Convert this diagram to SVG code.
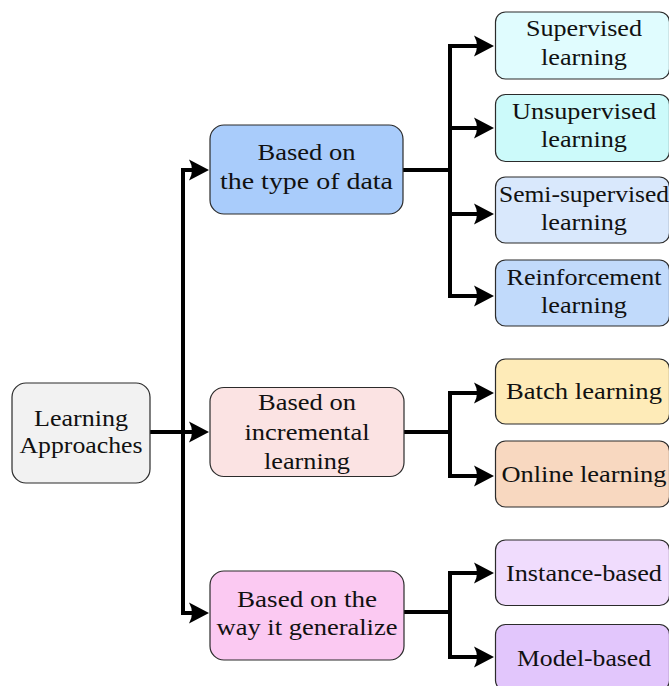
<svg xmlns="http://www.w3.org/2000/svg" width="669" height="686" viewBox="0 0 669 686">
  <style>
    .box { stroke: #2b2b2b; stroke-width: 1.2; }
    text { font-family: 'Liberation Serif', 'Times New Roman', Times, Tinos, serif; font-size: 24px; fill: #111; text-anchor: middle; }
    .wire { fill: none; stroke: #000; stroke-width: 4; stroke-linejoin: miter; stroke-linecap: butt; marker-end: url(#arr); }
  </style>
  <defs>
    <marker id="arr" markerUnits="userSpaceOnUse" viewBox="-15 -15 30 30" markerWidth="30" markerHeight="30" refX="0" refY="0" orient="auto" overflow="visible">
      <path d="M11,0 L-9,-10.5 Q-3,0 -9,10.5 Z" fill="#000"/>
    </marker>
  </defs>

  <!-- connectors -->
  <g id="connectors">
    <path class="wire" d="M150,432 H198"/>
    <path class="wire" d="M183,432 V170 H198"/>
    <path class="wire" d="M183,432 V613 H198"/>

    <path class="wire" d="M403,170 H450 V46 H483"/>
    <path class="wire" d="M450,170 V128 H483"/>
    <path class="wire" d="M450,170 V214 H483"/>
    <path class="wire" d="M450,170 V296 H483"/>

    <path class="wire" d="M404,432 H450 V393 H483"/>
    <path class="wire" d="M450,432 V476 H483"/>

    <path class="wire" d="M404,612 H450 V573 H483"/>
    <path class="wire" d="M450,612 V657 H483"/>
  </g>

  <!-- root -->
  <g id="root">
    <rect class="box" x="12" y="383" width="138" height="100" rx="14" fill="#f2f2f2"/>
    <text x="81" y="426" textLength="94" lengthAdjust="spacingAndGlyphs">Learning</text>
    <text x="81" y="453" textLength="123" lengthAdjust="spacingAndGlyphs">Approaches</text>
  </g>

  <!-- second level -->
  <g id="by-data">
    <rect class="box" x="210" y="125" width="193" height="89" rx="14" fill="#a9ccfb"/>
    <text x="306.5" y="160" textLength="98" lengthAdjust="spacingAndGlyphs">Based on</text>
    <text x="306.5" y="189" textLength="173" lengthAdjust="spacingAndGlyphs">the type of data</text>
  </g>
  <g id="by-increment">
    <rect class="box" x="210" y="387.5" width="194" height="89" rx="14" fill="#fbe3e3"/>
    <text x="307" y="410" textLength="98" lengthAdjust="spacingAndGlyphs">Based on</text>
    <text x="307" y="440" textLength="125" lengthAdjust="spacingAndGlyphs">incremental</text>
    <text x="307" y="469" textLength="86" lengthAdjust="spacingAndGlyphs">learning</text>
  </g>
  <g id="by-generalize">
    <rect class="box" x="210" y="571" width="194" height="89" rx="14" fill="#fbc9f2"/>
    <text x="307" y="606.5" textLength="140" lengthAdjust="spacingAndGlyphs">Based on the</text>
    <text x="307" y="634.5" textLength="181" lengthAdjust="spacingAndGlyphs">way it generalize</text>
  </g>

  <!-- leaves -->
  <g id="supervised">
    <rect class="box" x="495.5" y="12" width="174" height="67" rx="10" fill="#e0fcfe"/>
    <text x="584" y="36" textLength="116" lengthAdjust="spacingAndGlyphs">Supervised</text>
    <text x="584" y="64.5" textLength="86" lengthAdjust="spacingAndGlyphs">learning</text>
  </g>
  <g id="unsupervised">
    <rect class="box" x="495.5" y="94.5" width="174" height="67" rx="10" fill="#ccfafa"/>
    <text x="584" y="118.5" textLength="144" lengthAdjust="spacingAndGlyphs">Unsupervised</text>
    <text x="584" y="147" textLength="86" lengthAdjust="spacingAndGlyphs">learning</text>
  </g>
  <g id="semi-supervised">
    <rect class="box" x="495.5" y="177" width="174" height="66" rx="10" fill="#d9e8fc"/>
    <text x="584" y="201.5" textLength="170" lengthAdjust="spacingAndGlyphs">Semi-supervised</text>
    <text x="584" y="230" textLength="86" lengthAdjust="spacingAndGlyphs">learning</text>
  </g>
  <g id="reinforcement">
    <rect class="box" x="495.5" y="260" width="174" height="66" rx="10" fill="#c1dafb"/>
    <text x="584" y="284.5" textLength="155" lengthAdjust="spacingAndGlyphs">Reinforcement</text>
    <text x="584" y="313" textLength="86" lengthAdjust="spacingAndGlyphs">learning</text>
  </g>
  <g id="batch">
    <rect class="box" x="495.5" y="359" width="174" height="65" rx="10" fill="#feebb8"/>
    <text x="584" y="399" textLength="156" lengthAdjust="spacingAndGlyphs">Batch learning</text>
  </g>
  <g id="online">
    <rect class="box" x="495.5" y="441" width="174" height="66" rx="10" fill="#f8d8c0"/>
    <text x="584" y="482" textLength="165" lengthAdjust="spacingAndGlyphs">Online learning</text>
  </g>
  <g id="instance-based">
    <rect class="box" x="495.5" y="540" width="174" height="65.5" rx="10" fill="#f0dcfd"/>
    <text x="584" y="580.5" textLength="156" lengthAdjust="spacingAndGlyphs">Instance-based</text>
  </g>
  <g id="model-based">
    <rect class="box" x="495.5" y="624.5" width="174" height="66" rx="10" fill="#e2c6fc"/>
    <text x="584" y="665.5" textLength="134" lengthAdjust="spacingAndGlyphs">Model-based</text>
  </g>
</svg>
